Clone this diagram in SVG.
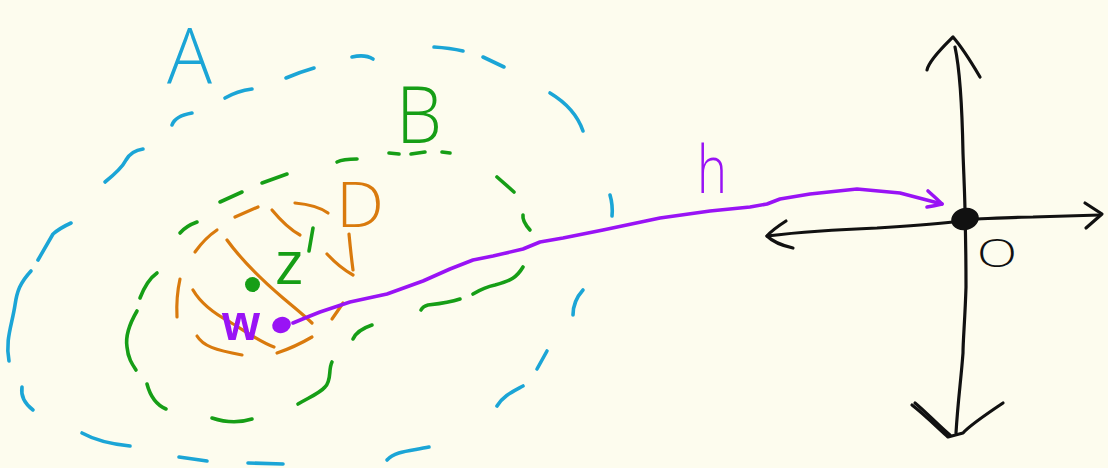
<svg xmlns="http://www.w3.org/2000/svg" width="1108" height="468" viewBox="0 0 1108 468">
<style>
.s{fill:none;stroke-linecap:round;stroke-linejoin:round}
.blue{stroke:#1ba5d6;stroke-width:3.6}
.green{stroke:#169e16;stroke-width:3.6}
.orange{stroke:#d97a0d;stroke-width:3.2}
.purple{stroke:#9913f5;stroke-width:3.6}
.black{stroke:#111111;stroke-width:3.2}
.lbl{font-family:"Open Sans","Liberation Sans",sans-serif;font-weight:300}
.reg{font-weight:400}
</style>
<rect width="1108" height="468" fill="#fdfcee"/>
<g id="region-A">
<g class="s blue">
<path d="M286,78 Q300,72 314,68"/>
<path d="M225,98 Q237,91 252,89"/>
<path d="M172,125 Q175,116 192,113"/>
<path d="M105,182 C115,174 122,168 126,160 C130,153 136,150 143,149"/>
<path d="M71,223 Q60,228 53,234 L38,260"/>
<path d="M31,271 C20,283 17,291 15,305 C12,325 5,340 9,361"/>
<path d="M22,387 Q20,400 33,410"/>
<path d="M82,433 Q100,443 130,446"/>
<path d="M179,457 L207,461"/>
<path d="M248,463 L283,464"/>
<path d="M352,57 Q365,54 373,59"/>
<path d="M434,47 Q450,48 463,51"/>
<path d="M483,57 L504,67"/>
<path d="M550,93 Q575,108 583,131"/>
<path d="M583,290 Q573,301 573,315"/>
<path d="M547,351 L537,369"/>
<path d="M523,386 C512,392 503,396 497,406"/>
<path d="M429,447 C410,451 395,451 387,460"/>
<path d="M610,195 Q613,205 612,216"/>
</g>
<text class="lbl" x="167" y="83.5" font-size="78" textLength="45" lengthAdjust="spacingAndGlyphs" fill="#1ba5d6">A</text>
</g>
<g id="region-B">
<g class="s green">
<path d="M262,183 L287,174"/>
<path d="M220,202 L242,192"/>
<path d="M180,233 Q186,226 197,222"/>
<path d="M337,162 Q343,159 357,159"/>
<path d="M389,153 L399,154"/>
<path d="M411,154 L425,152"/>
<path d="M442,152 L450,153"/>
<path d="M497,177 L514,192"/>
<path d="M523,215 Q522,221 530,230"/>
<path d="M523,267 C517,277 511,281 495,285 C485,287 478,291 473,294"/>
<path d="M460,299 C448,303 437,304 428,305 C424,306 422,308 421,310"/>
<path d="M372,325 Q357,330 353,339"/>
<path d="M332,362 C328,370 332,380 325,387 C320,393 310,397 298,404"/>
<path d="M157,273 Q147,280 140,298"/>
<path d="M137,311 C130,323 125,335 127,347 C128,358 132,364 136,370"/>
<path d="M147,384 Q152,403 166,409"/>
<path d="M212,418 Q233,425 252,419"/>
</g>
<text class="lbl" x="396" y="143" font-size="80" textLength="46" lengthAdjust="spacingAndGlyphs" fill="#169e16">B</text>
</g>
<g id="region-D">
<g class="s orange">
<path d="M235,217 L258,207"/>
<path d="M217,230 Q205,238 195,252"/>
<path d="M272,210 Q287,228 300,235"/>
<path d="M295,203 Q317,205 328,213"/>
<path d="M227,240 C240,258 262,280 283,298 C295,308 305,316 312,323"/>
<path d="M180,279 Q176,297 177,317"/>
<path d="M193,290 C200,302 215,314 230,322 C245,331 260,342 274,347"/>
<path d="M197,336 C203,346 215,350 242,355"/>
<path d="M277,353 Q295,347 312,337"/>
<path d="M332,319 Q337,312 343,303"/>
<path d="M327,254 Q340,268 353,275"/>
<path d="M349,234 Q351,255 353,270"/>
</g>
<text class="lbl" x="336" y="227" font-size="63" textLength="48" lengthAdjust="spacingAndGlyphs" fill="#d97a0d">D</text>
</g>
<g id="point-z">
<circle cx="252.5" cy="284.5" r="7.5" fill="#169e16"/>
<text class="lbl reg" x="275" y="284" font-size="60" fill="#169e16">z</text>
<path class="s green" d="M313,228 L309,251"/>
</g>
<g id="point-w">
<ellipse cx="281.5" cy="325" rx="9.5" ry="8" transform="rotate(-20 281.5 325)" fill="#9913f5"/>
<text x="222" y="340" font-family="Liberation Sans, sans-serif" font-weight="bold" font-size="50" textLength="38" lengthAdjust="spacingAndGlyphs" fill="#9913f5">w</text>
</g>
<g id="origin-O">
<g class="s black">
<path d="M955,47 C960,70 962,100 963,153 C964,180 965,200 965,213 C966,250 966,270 966,287 C965,320 963,340 963,353 C961,380 958,400 956,433"/>
<path d="M927,70 C929,60 945,45 953,37 C960,45 970,60 980,77"/>
<path d="M912,405 C925,415 940,430 948,437 L963,433 C970,425 985,415 1003,403"/>
<path d="M915,403 C926,412 940,427 950,435"/>
<path d="M767,236 C800,232 850,229 877,228 C910,226 935,224 953,222 L977,219 C1000,218 1020,217 1033,217 L1100,215"/>
<path d="M786,221 Q772,230 767,236 Q775,244 793,248"/>
<path d="M1085,203 L1102,214 L1086,228"/>
</g>
<ellipse cx="965" cy="219" rx="14" ry="11" transform="rotate(-15 965 219)" fill="#111111"/>
<text class="lbl" x="977" y="267" font-size="38" textLength="40" lengthAdjust="spacingAndGlyphs" fill="#111111">O</text>
</g>
<g id="connectors">
<g id="edge-h">
<path class="s purple" d="M293,323 L305,318 L320,312 L350,302 L387,294 L423,281 L450,269 L473,260 L493,256 L523,249 L540,242 L563,238 L603,230 L660,218 L710,211 L750,207 L767,204 L780,199 L810,194 L857,189 L900,193 L942,204"/>
<path class="s purple" d="M928,191 Q936,198 942,204 Q934,206 927,207"/>
<text class="lbl" x="697" y="193" font-size="67" textLength="30" lengthAdjust="spacingAndGlyphs" fill="#9913f5">h</text>
</g>
</g>
</svg>
